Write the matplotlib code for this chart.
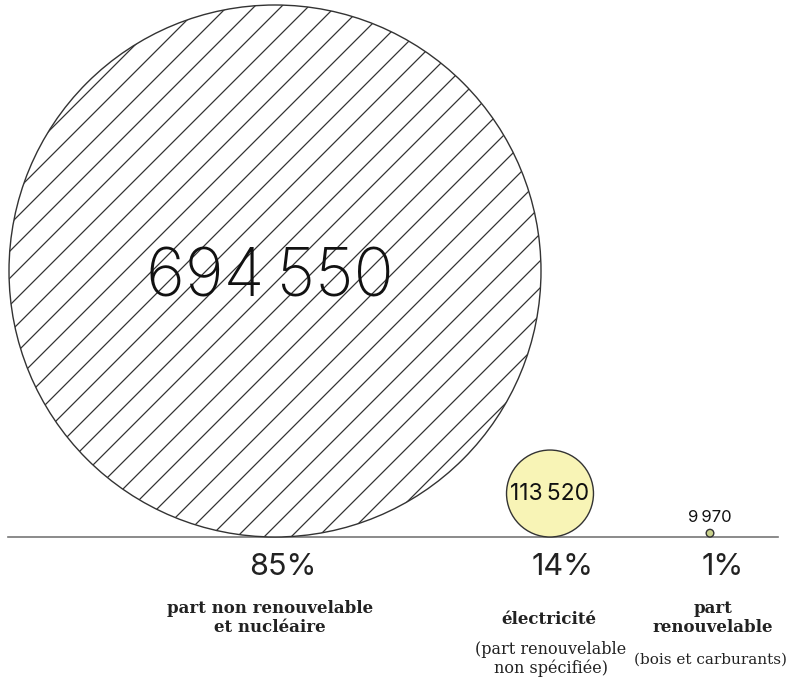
import numpy as np
import matplotlib.pyplot as plt
from matplotlib.patches import Circle

# data
values = [694550, 113520, 9970]
value_labels = ["694\u202f550", "113\u202f520", "9\u202f970"]
shares = ["85%", "14%", "1%"]
titles = ["part non renouvelable\net nucléaire", "électricité", "part\nrenouvelable"]
notes = ["", "(part renouvelable\nnon spécifiée)", "(bois et carburants)"]

W, H = 793, 681
base_y = 537
centers_x = [275, 550, 710]
r_scale = 266 / max(values)
fills = ["white", "#f8f4b6", "#c9d18c"]
dark = "#222222"

fig = plt.figure(figsize=(W / 100, H / 100), dpi=100)
ax = fig.add_axes([0, 0, 1, 1])
ax.set_xlim(0, W)
ax.set_ylim(H, 0)
ax.set_aspect("equal")
ax.axis("off")

num_font = ["Inter", "DejaVu Sans"]
serif = "DejaVu Serif"

ax.plot([8, 778], [base_y, base_y], color="#777777", lw=1.2, zorder=1)

for i, v in enumerate(values):
    r = v * r_scale
    cx, cy = centers_x[i], base_y - r
    c = Circle((cx, cy), r, facecolor=fills[i], edgecolor="#333333", lw=1, zorder=2)
    ax.add_patch(c)
    if i == 0:
        # diagonal hatching clipped to the circle
        step = 27
        for k in np.arange(-3 * r, 3 * r, step):
            x0 = cx + k
            ln, = ax.plot([x0 - 2 * r, x0 + 2 * r], [cy + 2 * r, cy - 2 * r],
                          color="#333333", lw=0.9, zorder=3)
            ln.set_clip_path(c)

ax.text(270, 279, value_labels[0], fontsize=48, family=num_font, fontweight="light",
        color="#111111", ha="center", va="center", zorder=5)
ax.text(centers_x[1], base_y - values[1] * r_scale, value_labels[1], fontsize=16.5,
        family=num_font, color="#111111", ha="center", va="center", zorder=5)
ax.text(centers_x[2], 518, value_labels[2], fontsize=12, family=num_font,
        color="#111111", ha="center", va="center", zorder=5)

share_x = [283, 563, 723]
for i in range(3):
    ax.text(share_x[i], 567, shares[i], fontsize=22, family=num_font,
            color=dark, ha="center", va="center")

ax.text(270, 618, titles[0], fontsize=12, family=serif, fontweight="bold", color=dark,
        ha="center", va="center", linespacing=1.15)
ax.text(549, 620, titles[1], fontsize=12, family=serif, fontweight="bold", color=dark,
        ha="center", va="center")
ax.text(713, 618, titles[2], fontsize=12, family=serif, fontweight="bold", color=dark,
        ha="center", va="center", linespacing=1.15)
ax.text(551, 659, notes[1], fontsize=11.5, family=serif, color=dark,
        ha="center", va="center", linespacing=1.1)
ax.text(711, 660, notes[2], fontsize=11, family=serif, color=dark,
        ha="center", va="center")

fig.savefig("out.png", dpi=100)
